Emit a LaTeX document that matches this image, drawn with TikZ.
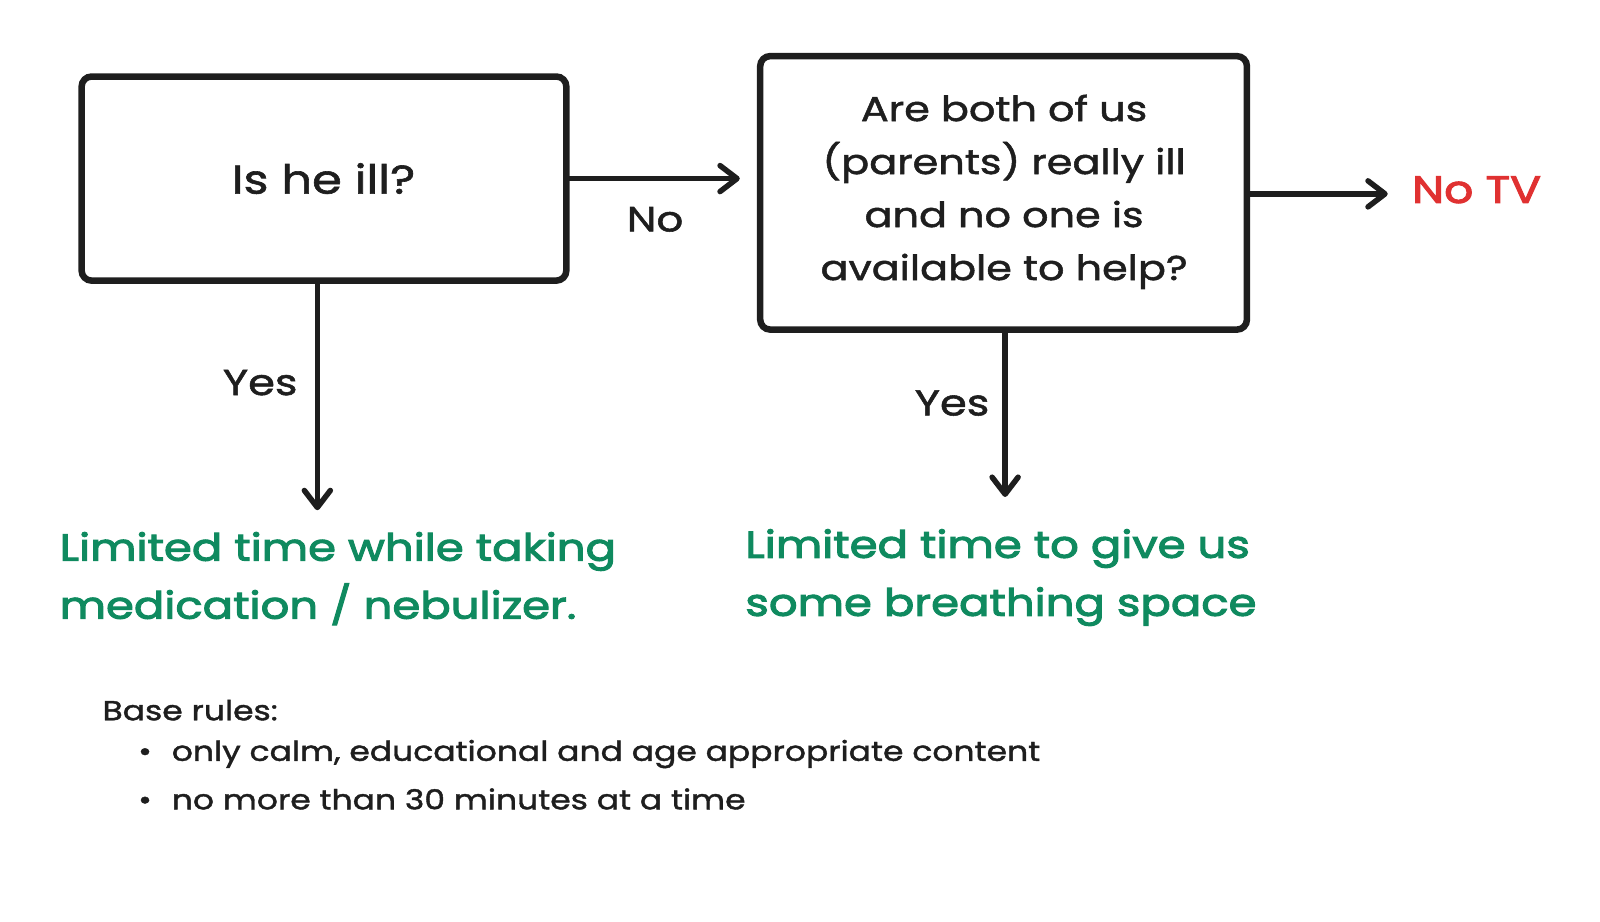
\documentclass[tikz,border=0pt]{standalone}
\usepackage{fontspec}
\setmainfont{Poppins}
\newfontfamily\inkf[FakeStretch=1.2,FakeBold=1.5]{Poppins}
\newfontfamily\heavyf[FakeStretch=1.2,FakeBold=2.8]{Poppins}
\usetikzlibrary{arrows.meta}
\definecolor{ink}{HTML}{1E1E1E}
\definecolor{okgreen}{HTML}{0F8A5F}
\definecolor{notv}{HTML}{E03131}
\begin{document}
\begin{tikzpicture}[x=1.0204pt,y=-1.0204pt,
  box/.style={draw=ink,line width=6.5pt,rounded corners=10pt,inner sep=0pt},
  arr/.style={draw=ink,line width=5.5pt,line cap=round,-{Straight Barb[length=17pt,width=26pt,line width=5.5pt,round]}},
  lbl/.style={text=ink,font=\fontsize{35}{40}\selectfont\inkf},
  green/.style={text=okgreen,font=\fontsize{37.5}{58}\selectfont\heavyf,align=left,anchor=west},
  rule/.style={text=ink,font=\fontsize{27.5}{44}\selectfont\inkf,anchor=west},
]
\useasboundingbox (0,0) rectangle (1568,902.6);
\node[box,minimum width=484.7pt,minimum height=204.1pt] (q1) at (317.5,175) {};
\node[lbl,font=\fontsize{40}{40}\selectfont\inkf] (q1t) at (317,175) {Is he ill?};
\node[box,minimum width=486.7pt,minimum height=273.5pt] (q2) at (983.5,189) {};
\node[lbl,font=\fontsize{34.5}{53}\selectfont\inkf,align=center] (q2t) at (984,188) {Are both of us\\(parents) really ill\\and no one is\\available to help?};
\coordinate (noEnd) at (725,175);
\draw[arr] (q1.east) -- (noEnd);
\node[lbl] (nolbl) at (642,215) {No};
\node[text=notv,font=\fontsize{38}{40}\selectfont\heavyf] (notv) at (1447,186) {No TV};
\coordinate (tvEnd) at (1360,190);
\draw[arr] (q2.east |- tvEnd) -- (tvEnd);
\coordinate (y1End) at (311,500);
\draw[arr] (q1.south -| y1End) -- (y1End);
\node[lbl,font=\fontsize{36}{40}\selectfont\inkf] (y1) at (255,375) {Yes};
\coordinate (y2End) at (985,487);
\draw[arr] (q2.south -| y2End) -- (y2End);
\node[lbl,font=\fontsize{36}{40}\selectfont\inkf] (y2) at (933,395) {Yes};
\node[green] (g1) at (55,567) {Limited time while taking\\medication / nebulizer.};
\node[green] (g2) at (727,566) {Limited time to give us\\some breathing space};
\node[rule] (base) at (97,696) {Base rules:};
\node[rule] (r1) at (132,739) {\textbullet\hspace{20pt}only calm, educational and age appropriate content};
\node[rule] (r2) at (132,783) {\textbullet\hspace{20pt}no more than 30 minutes at a time};
\end{tikzpicture}
\end{document}
